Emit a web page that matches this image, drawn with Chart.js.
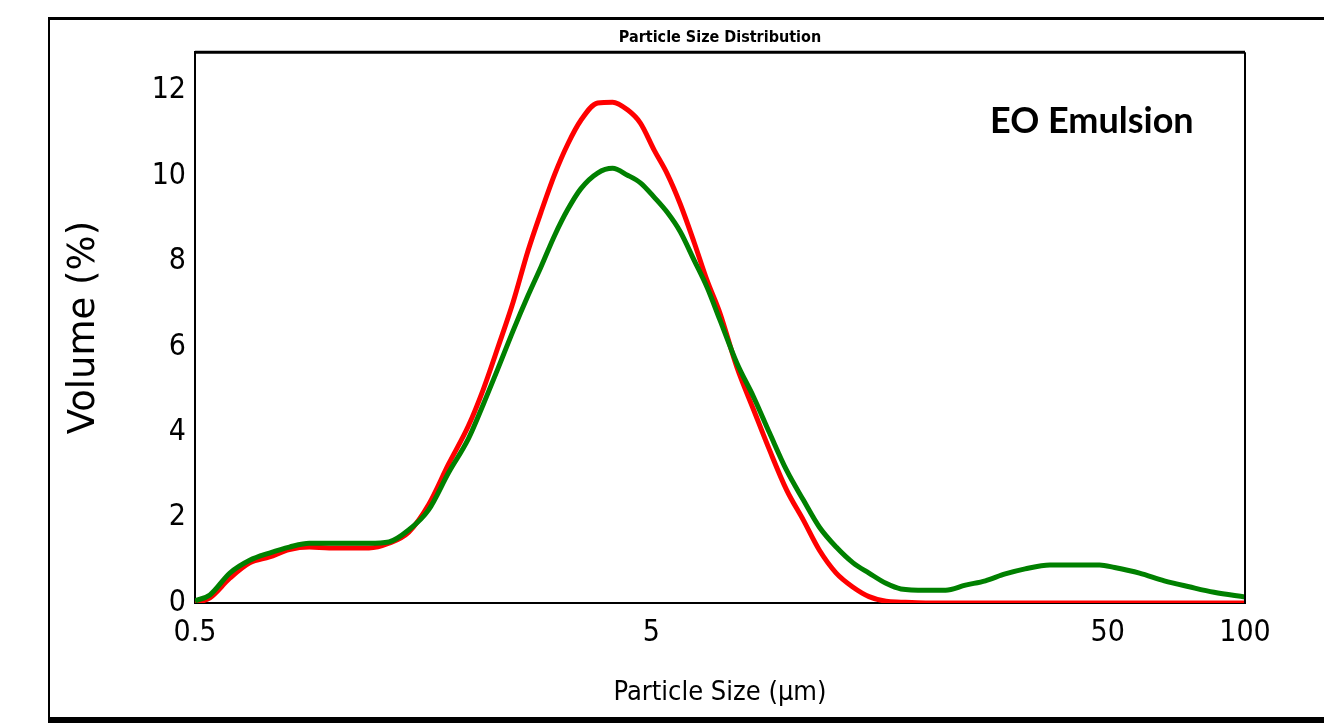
<!DOCTYPE html>
<html>
<head>
<meta charset="utf-8">
<script src="https://cdn.jsdelivr.net/npm/chart.js@4.4.1/dist/chart.umd.min.js"></script>
<style>
    html, body { margin: 0; padding: 0; background: #fff; }
    #wrap { width: 1324px; height: 728px; }
</style>
</head>
<body>
<div id="wrap"><canvas id="psdChart" width="1324" height="728"></canvas></div>
<script>
// Particle size (um), log-spaced sample points
const sizes = [0.5, 0.539, 0.596, 0.659, 0.728, 0.805, 0.89, 0.984, 1.088, 1.203,
    1.33, 1.47, 1.625, 1.797, 1.987, 2.141, 2.308, 2.49, 2.684, 2.865,
    3.073, 3.281, 3.502, 3.813, 4.112, 4.434, 4.732, 5.076, 5.418, 5.783,
    6.204, 6.621, 7.068, 7.697, 8.382, 9.082, 9.893, 10.77, 11.67, 12.71,
    13.84, 15.0, 16.34, 17.62, 19.97, 22.08, 24.4, 26.98, 29.82, 32.97,
    37.37, 42.37, 48.02, 51.79, 58.72, 66.55, 75.44, 85.53, 100];

// Volume (%) - red curve
const redVolume = [0, 0.12, 0.58, 0.94, 1.08, 1.25, 1.31, 1.29, 1.29, 1.29,
    1.40, 1.66, 2.3, 3.25, 4.15, 5.0, 6.0, 7.05, 8.25, 9.15,
    10.05, 10.75, 11.3, 11.71, 11.73, 11.55, 11.24, 10.6, 10.05, 9.35,
    8.45, 7.56, 6.79, 5.53, 4.52, 3.58, 2.65, 1.94, 1.24, 0.7,
    0.37, 0.15, 0.04, 0.02, 0, 0, 0, 0, 0, 0,
    0, 0, 0, 0, 0, 0, 0, 0, 0];

// Volume (%) - green curve
const greenVolume = [0.05, 0.19, 0.70, 1.0, 1.17, 1.31, 1.40, 1.40, 1.40, 1.40,
    1.43, 1.71, 2.18, 3.05, 3.85, 4.65, 5.5, 6.38, 7.2, 7.87,
    8.62, 9.22, 9.7, 10.07, 10.18, 10.02, 9.84, 9.5, 9.15, 8.7,
    8.03, 7.4, 6.63, 5.62, 4.82, 3.98, 3.11, 2.41, 1.78, 1.31,
    0.94, 0.70, 0.46, 0.33, 0.30, 0.30, 0.42, 0.52, 0.68, 0.80,
    0.89, 0.89, 0.89, 0.83, 0.70, 0.52, 0.38, 0.25, 0.14];

const xTicks = [0.5, 5, 50, 100];
const yTicks = [0, 2, 4, 6, 8, 10, 12];

const narrow = "'Liberation Sans Narrow', 'DejaVu Sans Condensed', sans-serif";

// Frame lines and the sample label
const framePlugin = {
    id: 'frame',
    afterDraw(chart) {
        const { ctx, chartArea: a } = chart;
        ctx.save();
        ctx.strokeStyle = '#000';
        // outer frame
        ctx.lineWidth = 3;
        ctx.beginPath(); ctx.moveTo(48, 18.5); ctx.lineTo(1324, 18.5); ctx.stroke();
        ctx.lineWidth = 2;
        ctx.beginPath(); ctx.moveTo(49, 18); ctx.lineTo(49, 718); ctx.stroke();
        ctx.lineWidth = 6;
        ctx.beginPath(); ctx.moveTo(48, 720); ctx.lineTo(1324, 720); ctx.stroke();
        // plot box top and right
        ctx.lineWidth = 3;
        ctx.beginPath(); ctx.moveTo(a.left, a.top); ctx.lineTo(a.right, a.top); ctx.stroke();
        ctx.lineWidth = 2;
        ctx.beginPath(); ctx.moveTo(a.right, a.top); ctx.lineTo(a.right, a.bottom); ctx.stroke();
        // label
        ctx.fillStyle = '#000';
        ctx.font = "bold 36px Lato, 'Open Sans', sans-serif";
        ctx.textAlign = 'left';
        ctx.textBaseline = 'middle';
        ctx.fillText('EO Emulsion', 990, 121);
        ctx.restore();
    }
};

new Chart(document.getElementById('psdChart'), {
    type: 'line',
    data: {
        datasets: [
            {
                label: 'Green',
                data: sizes.map((s, i) => ({ x: s, y: greenVolume[i] })),
                borderColor: 'rgb(0,128,0)',
                borderWidth: 5,
                pointRadius: 0,
                cubicInterpolationMode: 'monotone'
            },
            {
                label: 'Red',
                data: sizes.map((s, i) => ({ x: s, y: redVolume[i] })),
                borderColor: 'rgb(255,0,0)',
                borderWidth: 5,
                pointRadius: 0,
                cubicInterpolationMode: 'monotone'
            }
        ]
    },
    options: {
        responsive: false,
        animation: false,
        layout: { padding: { left: 40, right: 79, top: 0, bottom: 10 } },
        plugins: {
            legend: { display: false },
            tooltip: { enabled: false },
            title: {
                display: true,
                fullSize: false,
                text: 'Particle Size Distribution',
                color: '#000',
                font: { family: narrow, size: 16, weight: 'bold', lineHeight: 1.2 },
                padding: { top: 28, bottom: 5 }
            }
        },
        scales: {
            x: {
                type: 'logarithmic',
                min: 0.5,
                max: 100,
                afterBuildTicks: (scale) => { scale.ticks = xTicks.map(v => ({ value: v })); },
                afterFit: (scale) => { scale.height = 115; },
                grid: { display: false, drawTicks: false },
                border: { display: true, color: '#000', width: 2 },
                ticks: {
                    color: '#000',
                    padding: 12,
                    maxRotation: 0,
                    autoSkip: false,
                    font: { family: narrow, size: 30 },
                    callback: (v) => String(v)
                },
                title: {
                    display: true,
                    text: 'Particle Size (μm)',
                    color: '#000',
                    font: { family: narrow, size: 27 },
                    padding: { bottom: 9 }
                }
            },
            y: {
                min: 0,
                max: 12.9,
                afterBuildTicks: (scale) => { scale.ticks = yTicks.map(v => ({ value: v })); },
                afterFit: (scale) => { scale.width = 155; },
                grid: { display: false, drawTicks: false },
                border: { display: true, color: '#000', width: 2 },
                ticks: {
                    color: '#000',
                    padding: 9,
                    font: { family: narrow, size: 30 }
                },
                title: {
                    display: true,
                    text: 'Volume (%)',
                    color: '#000',
                    font: { family: "'DejaVu Sans', Verdana, sans-serif", size: 37 },
                    padding: { top: 22 }
                }
            }
        }
    },
    plugins: [framePlugin]
});
</script>
</body>
</html>
